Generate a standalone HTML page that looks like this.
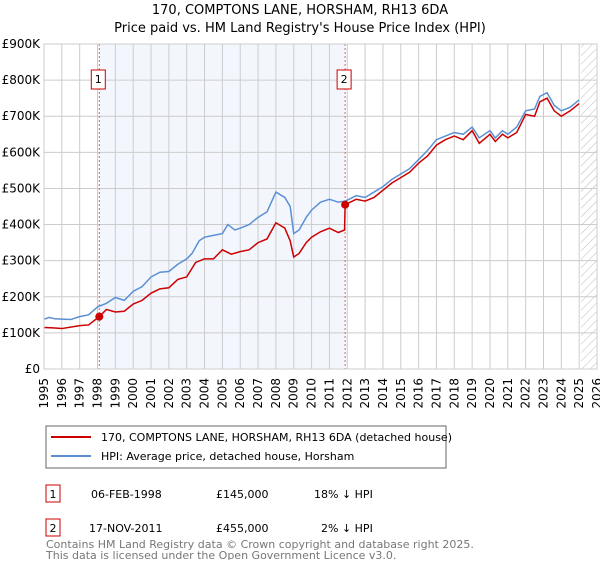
<!DOCTYPE html>
<html><head><meta charset="utf-8"><style>
body{margin:0;background:#fff;font-family:"DejaVu Sans","Liberation Sans",sans-serif;}
svg text{font-family:"DejaVu Sans","Liberation Sans",sans-serif;}
</style></head><body>
<svg id="chart" width="600" height="560" xmlns="http://www.w3.org/2000/svg">
<defs><pattern id="hatch" width="6" height="6" patternUnits="userSpaceOnUse" patternTransform="rotate(45)"><line x1="0" y1="0" x2="0" y2="6" stroke="#bbb" stroke-width="1"/></pattern></defs>
<text x="300" y="14" text-anchor="middle" font-size="13">170, COMPTONS LANE, HORSHAM, RH13 6DA</text>
<text x="300" y="32" text-anchor="middle" font-size="13">Price paid vs. HM Land Registry's House Price Index (HPI)</text>
<g id="plot"></g>
<rect x="46" y="426" width="400" height="42" fill="#fff" stroke="#666"/>
<line x1="51" y1="437" x2="91" y2="437" stroke="#cc0000" stroke-width="2"/>
<text x="101" y="441" font-size="11">170, COMPTONS LANE, HORSHAM, RH13 6DA (detached house)</text>
<line x1="51" y1="456" x2="91" y2="456" stroke="#5b8fd4" stroke-width="2"/>
<text x="101" y="460" font-size="11">HPI: Average price, detached house, Horsham</text>
<g>
<rect x="46" y="485" width="14" height="17" fill="#fff" stroke="#cc0000"/><text x="53" y="498" text-anchor="middle" font-size="11">1</text>
<text x="91" y="498" font-size="11">06-FEB-1998</text><text x="216" y="498" font-size="11">£145,000</text><text x="314" y="498" font-size="11">18% ↓ HPI</text></g>
<g>
<rect x="46" y="519" width="14" height="17" fill="#fff" stroke="#cc0000"/><text x="53" y="532" text-anchor="middle" font-size="11">2</text>
<text x="89" y="532" font-size="11">17-NOV-2011</text><text x="216" y="532" font-size="11">£455,000</text><text x="321" y="532" font-size="11">2% ↓ HPI</text></g>
<text x="46" y="548" font-size="11" fill="#777">Contains HM Land Registry data © Crown copyright and database right 2025.</text>
<text x="46" y="559" font-size="11" fill="#777">This data is licensed under the Open Government Licence v3.0.</text>
</svg>
<script>
const hpiYears=[1995,1995.3,1995.6,1996,1996.5,1997,1997.5,1998,1998.5,1999,1999.5,2000,2000.5,2001,2001.5,2002,2002.5,2003,2003.3,2003.7,2004,2004.5,2005,2005.3,2005.7,2006,2006.5,2007,2007.5,2008,2008.5,2008.8,2009,2009.3,2009.7,2010,2010.5,2011,2011.5,2011.9,2012.5,2013,2013.5,2014,2014.5,2015,2015.5,2016,2016.5,2017,2017.5,2018,2018.5,2019,2019.4,2020,2020.3,2020.7,2021,2021.5,2022,2022.5,2022.8,2023.2,2023.6,2024,2024.5,2025];
const hpiValues=[138,143,139,138,137,145,150,172,182,198,190,215,228,255,268,270,290,305,320,355,365,370,375,400,385,390,400,420,435,490,475,450,375,385,420,440,462,470,462,465,480,475,490,505,525,540,555,580,605,635,645,655,650,670,640,660,640,660,650,670,715,720,755,765,730,715,725,745];
const priceYears=[1995,1995.5,1996,1997,1997.5,1998.1,1998.5,1999,1999.5,2000,2000.5,2001,2001.5,2002,2002.5,2003,2003.5,2004,2004.5,2005,2005.5,2006,2006.5,2007,2007.5,2008,2008.5,2008.8,2009,2009.3,2009.7,2010,2010.5,2011,2011.5,2011.85,2011.88,2012.5,2013,2013.5,2014,2014.5,2015,2015.5,2016,2016.5,2017,2017.5,2018,2018.5,2019,2019.4,2020,2020.3,2020.7,2021,2021.5,2022,2022.5,2022.8,2023.2,2023.6,2024,2024.5,2025];
const priceValues=[115,114,112,120,122,145,165,158,160,180,190,210,222,225,248,255,295,305,305,330,318,325,330,350,360,405,390,355,310,320,350,365,380,390,378,385,455,470,465,475,495,515,530,545,570,590,620,635,645,635,660,625,650,630,650,640,655,705,700,740,750,715,700,715,735];
const saleYears=[1998.1,2011.88];
const saleValues=[145,455];
const saleLabels=["1","2"];
const yTicks=[0,100,200,300,400,500,600,700,800,900];
const yTickLabels=["£0","£100K","£200K","£300K","£400K","£500K","£600K","£700K","£800K","£900K"];
const xTicks=[1995,1996,1997,1998,1999,2000,2001,2002,2003,2004,2005,2006,2007,2008,2009,2010,2011,2012,2013,2014,2015,2016,2017,2018,2019,2020,2021,2022,2023,2024,2025,2026];

const X0=44,X1=597,Y0=369,Y1=44;
const sx=y=>X0+(y-1995)/(2026-1995)*(X1-X0);
const sy=v=>Y0-v/900*(Y0-Y1);
const g=document.getElementById('plot');
const NS='http://www.w3.org/2000/svg';
function mk(t,a){const e=document.createElementNS(NS,t);for(const k in a)e.setAttribute(k,a[k]);g.appendChild(e);return e;}
let e;
e=mk('rect',{x:sx(saleYears[0]),y:Y1,width:sx(saleYears[1])-sx(saleYears[0]),height:Y0-Y1,fill:'#eef3fc',opacity:0.7});


e=mk('rect',{x:sx(2025.1),y:Y1,width:X1-sx(2025.1),height:Y0-Y1,fill:'url(#hatch)'});


xTicks.forEach(t=>{
 e=mk('line',{x1:sx(t),x2:sx(t),y1:Y1,y2:Y0,stroke:'#ccc','stroke-width':1});
 
 
 e=mk('text',{transform:`translate(${sx(t)+4},378) rotate(-90)`,'text-anchor':'end','font-size':12});
 e.textContent=t;
 
 
});
yTicks.forEach((t,i)=>{
 e=mk('line',{x1:X0,x2:X1,y1:sy(t),y2:sy(t),stroke:'#ccc','stroke-width':1});
 
 
 e=mk('text',{x:X0-4,y:sy(t)+4,'text-anchor':'end','font-size':12});
 e.textContent=yTickLabels[i];
 
 
});
saleYears.forEach((s,i)=>{
 e=mk('line',{x1:sx(s),x2:sx(s),y1:Y1,y2:Y0,stroke:'#e06060','stroke-dasharray':'2,2','stroke-width':1});
 
 
 e=mk('rect',{x:sx(s)-8,y:70,width:14,height:19,fill:'#fff',stroke:'#cc0000'});
 
 
 e=mk('text',{x:sx(s)-1,y:83,'text-anchor':'middle','font-size':11});
 e.textContent=saleLabels[i];
 
 
});
e=mk('polyline',{points:hpiYears.map((y,i)=>sx(y)+','+sy(hpiValues[i])).join(' '),fill:'none',stroke:'#5b8fd4','stroke-width':1.5});


e=mk('polyline',{points:priceYears.map((y,i)=>sx(y)+','+sy(priceValues[i])).join(' '),fill:'none',stroke:'#cc0000','stroke-width':1.5});


saleYears.forEach((s,i)=>{
 e=mk('circle',{cx:sx(s),cy:sy(saleValues[i]),r:4,fill:'#cc0000'});
 
 
});
e=mk('rect',{x:X0,y:Y1,width:X1-X0,height:Y0-Y1,fill:'none',stroke:'#ccc'});


</script>
</body></html>
